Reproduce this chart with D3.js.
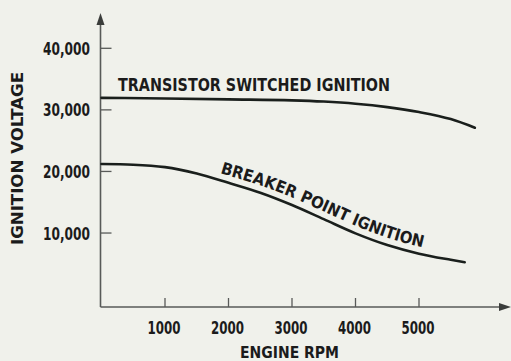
<!DOCTYPE html>
<html>
<head>
<meta charset="utf-8">
<script src="https://cdn.jsdelivr.net/npm/d3@7"></script>
<style>
  html, body { margin: 0; padding: 0; background: #f0f1eb; }
  svg { display: block; }
  text { font-family: "Liberation Sans Narrow", "DejaVu Sans Condensed", "Liberation Sans", Arial, sans-serif; font-weight: bold; fill: #1b1b1b; }
</style>
</head>
<body>
<svg id="chart" width="511" height="361"></svg>
<script>
// Engine speed (RPM) sample points for each curve
const transistorRpm = [0, 1000, 2000, 3000, 3500, 4000, 4500, 5000, 5500, 5880];
const transistorVolts = [31950, 31850, 31700, 31550, 31350, 31000, 30450, 29650, 28500, 27100];

const breakerRpm = [0, 500, 1000, 1500, 2000, 2500, 3000, 3500, 4000, 4500, 5000, 5500, 5720];
const breakerVolts = [21200, 21100, 20700, 19650, 18150, 16550, 14550, 12250, 9950, 8050, 6650, 5650, 5250];

const xTicks = [1000, 2000, 3000, 4000, 5000];
const xTickLabels = ["1000", "2000", "3000", "4000", "5000"];
const yTicks = [10000, 20000, 30000, 40000];
const yTickLabels = ["10,000", "20,000", "30,000", "40,000"];

const seriesLabels = ["TRANSISTOR SWITCHED IGNITION", "BREAKER POINT IGNITION"];
const xTitle = "ENGINE RPM";
const yTitle = "IGNITION VOLTAGE";

const svg = d3.select("#chart");
const axisColor = "#585a58";
const lineColor = "#1a1f1c";

const originX = 100.5, originY = 307;
const x = d3.scaleLinear().domain([0, 5000]).range([101.5, 419]);
const y = d3.scaleLinear().domain([0, 40000]).range([294.6, 48.3]);

// Axes with arrowheads
const axes = svg.append("g");
axes.append("line").attr("x1", originX).attr("x2", originX).attr("y1", 22).attr("y2", originY)
  .attr("stroke", axisColor).attr("stroke-width", 1.6);
axes.append("line").attr("x1", originX).attr("x2", 503).attr("y1", originY).attr("y2", originY)
  .attr("stroke", axisColor).attr("stroke-width", 1.6);
axes.append("path").attr("d", `M${originX},13 L${originX - 4},25 L${originX + 4},25 Z`).attr("fill", "#3a3c3a");
axes.append("path").attr("d", `M511,${originY} L499,${originY - 4} L499,${originY + 4} Z`).attr("fill", "#3a3c3a");

// Y ticks: short marks to the right of the axis
const yTickG = svg.append("g").selectAll("g").data(yTicks).join("g");
yTickG.append("line")
  .attr("x1", originX).attr("x2", originX + 11)
  .attr("y1", d => y(d)).attr("y2", d => y(d))
  .attr("stroke", axisColor).attr("stroke-width", 1.3);
yTickG.append("text")
  .attr("x", 90).attr("y", d => y(d) + 6.5)
  .attr("text-anchor", "end")
  .attr("font-size", 17)
  .attr("textLength", 47).attr("lengthAdjust", "spacingAndGlyphs")
  .text((d, i) => yTickLabels[i]);

// X ticks: short marks above the axis
const xTickG = svg.append("g").selectAll("g").data(xTicks).join("g");
xTickG.append("line")
  .attr("x1", d => x(d)).attr("x2", d => x(d))
  .attr("y1", originY).attr("y2", originY - 9)
  .attr("stroke", axisColor).attr("stroke-width", 1.3);
xTickG.append("text")
  .attr("x", d => x(d) - 1).attr("y", 334)
  .attr("text-anchor", "middle")
  .attr("font-size", 17)
  .attr("textLength", 33).attr("lengthAdjust", "spacingAndGlyphs")
  .text((d, i) => xTickLabels[i]);

// Axis titles
svg.append("text")
  .attr("x", 240).attr("y", 358)
  .attr("font-size", 16)
  .attr("textLength", 99).attr("lengthAdjust", "spacingAndGlyphs")
  .text(xTitle);
svg.append("text")
  .attr("transform", "translate(23,245) rotate(-90)")
  .attr("font-size", 15)
  .attr("textLength", 173).attr("lengthAdjust", "spacingAndGlyphs")
  .text(yTitle);

// Curves
const line = d3.line().x(d => x(d[0])).y(d => y(d[1])).curve(d3.curveMonotoneX);
const transistorData = d3.zip(transistorRpm, transistorVolts);
const breakerData = d3.zip(breakerRpm, breakerVolts);

svg.append("path").attr("d", line(transistorData))
  .attr("fill", "none").attr("stroke", lineColor).attr("stroke-width", 2.6).attr("stroke-linecap", "round");
const breakerPath = svg.append("path").attr("id", "breakerCurve").attr("d", line(breakerData))
  .attr("fill", "none").attr("stroke", lineColor).attr("stroke-width", 2.6).attr("stroke-linecap", "round");

// Straight label above the transistor curve
svg.append("text")
  .attr("x", 118).attr("y", 91)
  .attr("font-size", 17)
  .attr("textLength", 272).attr("lengthAdjust", "spacingAndGlyphs")
  .text(seriesLabels[0]);

// Curved label riding along the breaker curve
const node = breakerPath.node();
const total = node.getTotalLength();
function lengthAtX(px) {
  let lo = 0, hi = total;
  for (let k = 0; k < 40; k++) {
    const mid = (lo + hi) / 2;
    if (node.getPointAtLength(mid).x < px) lo = mid; else hi = mid;
  }
  return (lo + hi) / 2;
}
const startL = lengthAtX(218);
const endL = lengthAtX(421);
svg.append("text")
  .attr("font-size", 16.5)
  .append("textPath")
  .attr("href", "#breakerCurve")
  .attr("startOffset", startL)
  .attr("textLength", endL - startL)
  .attr("lengthAdjust", "spacingAndGlyphs")
  .append("tspan").attr("dy", -7)
  .text(seriesLabels[1]);
</script>
</body>
</html>
